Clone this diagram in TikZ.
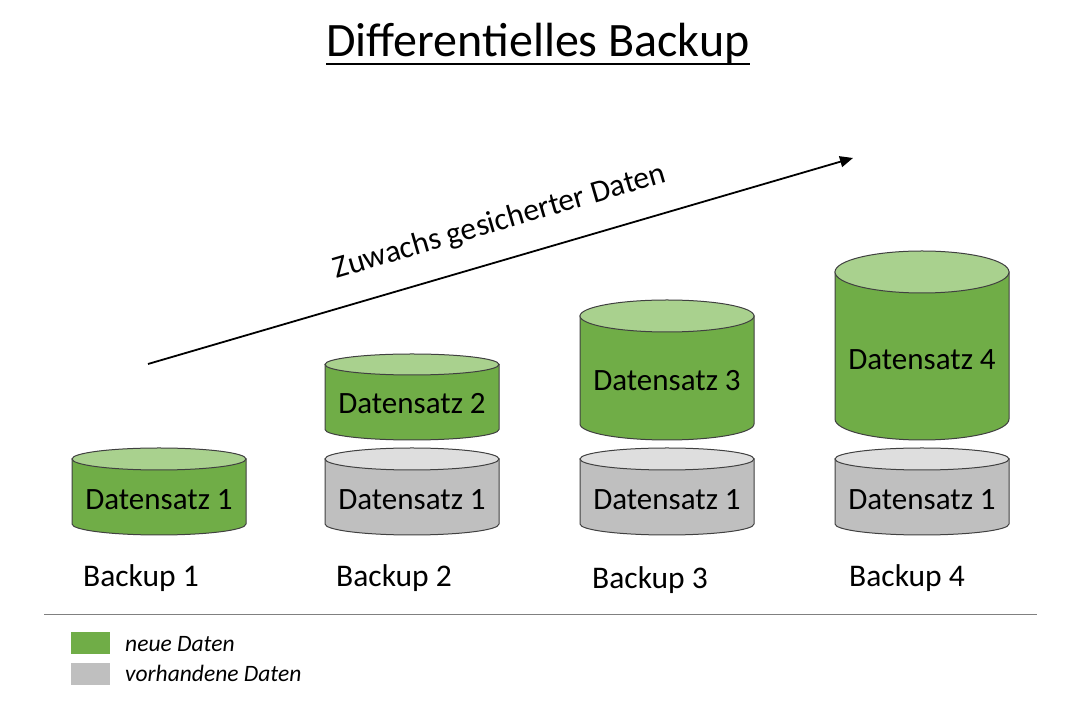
\documentclass[tikz,border=0pt]{standalone}
\usepackage{fontspec}
\setmainfont{Carlito}
\usetikzlibrary{arrows.meta}
\definecolor{newside}{HTML}{70AD47}
\definecolor{newtop}{HTML}{A9D18E}
\definecolor{oldside}{HTML}{BFBFBF}
\definecolor{oldtop}{HTML}{DEDEDE}
\definecolor{cylline}{HTML}{404040}
\definecolor{sepline}{HTML}{808080}
\newcommand\dbcyl[6]{% cx, topY, botY, ry, side, top
  \path[draw=cylline,line width=1pt,fill=#5] ({#1-87},#2) -- ({#1-87},#3)
    arc[start angle=180,end angle=360,x radius=87,y radius=#4] -- ({#1+87},#2) -- cycle;
  \path[draw=cylline,line width=1pt,fill=#6] (#1,#2) ellipse[x radius=87,y radius=#4];
}
\tikzset{
  cyltext/.style={font=\fontsize{31}{36}\selectfont, inner sep=0pt},
  backuplabel/.style={font=\fontsize{31.5}{37}\selectfont, anchor=west, inner sep=0pt},
  legendtext/.style={font=\fontsize{23.5}{28}\selectfont\itshape, anchor=west, inner sep=0pt},
  legendbox/.style={draw=none, inner sep=0pt, minimum width=39pt, minimum height=22pt},
}
\begin{document}
\begin{tikzpicture}[x=1pt,y=1pt]
\useasboundingbox[fill=white] (0,0) rectangle (1080,720);
% title
\node[font=\fontsize{48}{56}\selectfont, inner sep=0pt, anchor=base] (title) at (538,663) {Differentielles Backup};
\draw[line width=2pt] ([yshift=-7pt]title.base west) -- ([yshift=-7pt]title.base east);
% arrow
\coordinate (a0) at (148,356);
\coordinate (a1) at (853,562);
\draw[line width=1.8pt,-{Triangle[length=13pt,width=11pt]}] (a0) -- (a1);
\node[font=\fontsize{31.5}{37}\selectfont, rotate=16.3, inner sep=0pt] (growth) at (500,498) {Zuwachs gesicherter Daten};
% cylinders
\dbcyl{159}{261}{196}{11}{newside}{newtop}
\node[cyltext] (n1) at (159,220) {Datensatz 1};
\dbcyl{412}{261}{196}{11}{oldside}{oldtop}
\node[cyltext] (o2) at (412,220) {Datensatz 1};
\dbcyl{412}{355.5}{290.5}{10.5}{newside}{newtop}
\node[cyltext] (n2) at (412,316) {Datensatz 2};
\dbcyl{667}{261}{196}{11}{oldside}{oldtop}
\node[cyltext] (o3) at (667,220) {Datensatz 1};
\dbcyl{667}{404}{296}{16}{newside}{newtop}
\node[cyltext] (n3) at (667,339) {Datensatz 3};
\dbcyl{922}{261}{196}{11}{oldside}{oldtop}
\node[cyltext] (o4) at (922,220) {Datensatz 1};
\dbcyl{922}{448}{301}{21}{newside}{newtop}
\node[cyltext] (n4) at (922,360) {Datensatz 4};
% backup labels
\node[backuplabel] (b1) at (83,142) {Backup 1};
\node[backuplabel] (b2) at (336,142) {Backup 2};
\node[backuplabel] (b3) at (592,140) {Backup 3};
\node[backuplabel] (b4) at (849,142) {Backup 4};
% separator
\coordinate (s0) at (44,105);
\coordinate (s1) at (1037,105);
\draw[sepline, line width=1pt] (s0) -- (s1);
% legend
\node[legendbox, fill=newside, anchor=north west] (lg) at (71,88) {};
\node[legendbox, fill=oldside, anchor=north west] (lo) at (71,57) {};
\node[legendtext] (lgt) at (125,76) {neue Daten};
\node[legendtext] (lot) at (125,47) {vorhandene Daten};
\end{tikzpicture}
\end{document}
